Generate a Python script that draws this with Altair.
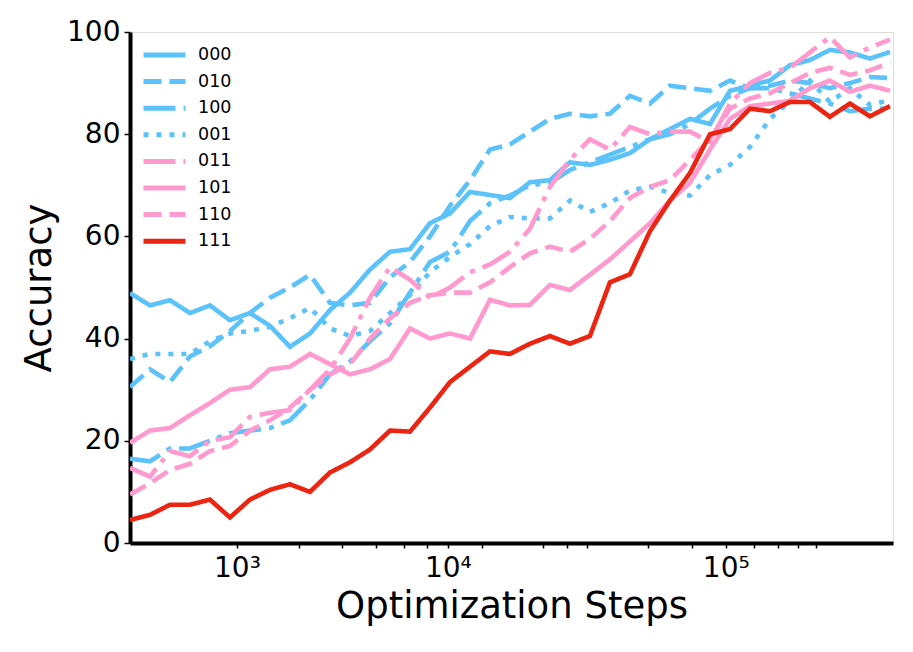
import altair as alt
import pandas as pd

# x positions (optimization steps) of the recorded checkpoints
steps = [231, 310, 412, 542, 707, 916, 1176, 1499, 1898, 2389, 2988, 3715, 4592,
         5648, 6911, 8418, 10206, 12318, 14804, 17722, 21137, 25117, 29738, 35106,
         41302, 48450, 56670, 66090, 76850, 89130, 103100, 118940, 136900, 157200,
         180100, 205900, 234900, 267500, 304000]

s000 = [48.9, 46.5, 47.5, 45.0, 46.5, 43.6, 45.0, 42.5, 38.4, 41.0, 45.6, 49.0, 53.5,
        57.0, 57.5, 62.6, 64.5, 68.7, 68.1, 67.5, 70.6, 71.0, 74.5, 74.0, 75.0, 76.3,
        79.0, 81.0, 83.0, 82.0, 88.5, 89.5, 90.5, 93.5, 94.5, 96.5, 96.0, 94.8, 96.1]
s010 = [30.5, 34.0, 31.5, 36.5, 38.5, 41.5, 45.0, 48.0, 50.0, 52.5, 47.0, 46.5, 47.0,
        52.0, 55.0, 60.0, 66.0, 71.0, 77.0, 78.0, 80.5, 83.0, 84.0, 83.5, 84.0, 87.5,
        86.0, 89.5, 89.0, 88.5, 90.5, 89.0, 89.5, 90.5, 90.0, 89.0, 90.0, 91.2, 91.0]
s100 = [16.5, 16.0, 18.5, 18.5, 20.0, 21.5, 22.0, 22.5, 24.0, 28.0, 33.0, 35.5, 39.5,
        43.0, 49.0, 55.0, 57.0, 63.0, 66.5, 68.0, 70.0, 70.5, 73.0, 74.5, 76.0, 77.5,
        79.0, 80.0, 82.0, 85.0, 87.5, 89.0, 89.0, 88.0, 87.0, 86.0, 84.5, 85.0, 85.0]
s001 = [36.0, 37.0, 37.0, 37.0, 39.5, 41.0, 41.5, 42.3, 44.0, 46.0, 42.0, 40.5, 41.5,
        45.0, 48.5, 53.0, 56.0, 58.5, 62.0, 63.8, 63.5, 63.5, 67.0, 64.8, 66.5, 69.0,
        69.7, 68.5, 68.0, 72.0, 74.0, 77.5, 83.0, 86.5, 90.5, 86.3, 89.0, 85.7, 86.7]
s011 = [14.7, 13.0, 18.0, 17.0, 20.0, 20.7, 24.7, 25.5, 26.0, 30.0, 34.0, 40.0, 48.0,
        54.0, 51.5, 48.0, 50.0, 53.0, 54.5, 57.0, 61.5, 69.7, 75.0, 79.0, 77.0, 81.4,
        80.0, 80.5, 80.5, 78.5, 86.0, 90.0, 92.0, 93.0, 96.0, 99.0, 95.0, 97.0, 98.5]
s101 = [19.6, 22.0, 22.5, 25.0, 27.4, 30.0, 30.5, 34.0, 34.5, 37.0, 35.0, 33.0, 34.0,
        36.0, 42.0, 40.0, 41.0, 40.0, 47.6, 46.5, 46.6, 50.5, 49.5, 52.5, 55.5, 59.0,
        62.6, 67.0, 70.5, 77.0, 83.0, 85.5, 86.0, 86.5, 89.0, 90.5, 88.3, 89.5, 88.5]
s110 = [9.5, 11.7, 14.3, 15.5, 18.0, 19.0, 22.0, 24.0, 26.5, 30.0, 33.0, 35.0, 40.0,
        44.0, 47.0, 48.5, 49.0, 49.0, 51.0, 54.0, 56.7, 58.0, 57.0, 59.5, 63.0, 67.5,
        69.7, 71.0, 75.0, 79.0, 85.0, 87.0, 88.0, 90.0, 92.0, 93.0, 91.6, 92.5, 94.0]
s111 = [4.5, 5.5, 7.5, 7.5, 8.5, 5.0, 8.5, 10.4, 11.5, 10.0, 13.8, 15.8, 18.3,
        22.0, 21.8, 26.5, 31.5, 34.5, 37.5, 37.0, 39.0, 40.5, 39.0, 40.5, 51.0, 52.6,
        61.0, 67.0, 72.4, 80.0, 81.0, 85.0, 84.5, 86.3, 86.3, 83.4, 86.0, 83.5, 85.5]

names = ["000", "010", "100", "001", "011", "101", "110", "111"]
series = [s000, s010, s100, s001, s011, s101, s110, s111]

BLUE = "#5BC2FA"
PINK = "#FF99CE"
RED = "#EC2412"
colors = [BLUE, BLUE, BLUE, BLUE, PINK, PINK, PINK, RED]
dashes = [[1, 0], [18, 8], [32, 8, 5, 8], [5, 8], [32, 8, 5, 8], [1, 0], [18, 8], [1, 0]]

major_ticks = [1000, 10000, 100000]
minor_ticks = [2100, 3400, 4900, 6500, 8200, 13700, 23600, 29000, 34200, 55800,
               78000, 122400, 144800, 166200, 187600]
y_ticks = [0, 20, 40, 60, 80, 100]

rows = []
for name, vals in zip(names, series):
    for s, v in zip(steps, vals):
        rows.append({"step": s, "acc": v, "run": name})
df = pd.DataFrame(rows)

FONT = "DejaVu Sans"

legend = alt.Legend(
    title=None, orient="none", legendX=11, legendY=14,
    symbolType="stroke", symbolSize=1764, symbolStrokeWidth=5,
    labelFontSize=17.5, labelFont=FONT, labelColor="black",
    clipHeight=18, rowPadding=8.6, labelOffset=10, padding=0,
)

chart = alt.Chart(df).mark_line(strokeWidth=4.6, clip=True).encode(
    x=alt.X(
        "step:Q",
        scale=alt.Scale(type="pow", exponent=0.1197, domain=[231, 309900], nice=False, zero=False),
        axis=alt.Axis(
            values=major_ticks + minor_ticks,
            labelExpr="datum.value == 1000 ? '10³' : datum.value == 10000 ? '10⁴' : datum.value == 100000 ? '10⁵' : ''",
            labelOverlap=False, labelFlush=False,
            labelFontSize=28, labelFont=FONT, labelColor="black", labelPadding=6,
            tickSize=5, tickWidth=1.5, tickColor="black",
            domainWidth=4, domainColor="black", grid=False,
            title="Optimization Steps", titleFontSize=37, titleFont=FONT,
            titleFontWeight="normal", titleColor="black", titlePadding=6,
        ),
    ),
    y=alt.Y(
        "acc:Q",
        scale=alt.Scale(domain=[0, 100], nice=False),
        axis=alt.Axis(
            values=y_ticks, labelFontSize=28, labelFont=FONT, labelColor="black",
            labelPadding=4, tickSize=6, tickWidth=1.5, tickColor="black",
            domainWidth=4, domainColor="black", grid=False,
            title="Accuracy", titleFontSize=37, titleFont=FONT,
            titleFontWeight="normal", titleColor="black", titlePadding=8,
        ),
    ),
    color=alt.Color("run:N", scale=alt.Scale(domain=names, range=colors), legend=legend, sort=names),
    strokeDash=alt.StrokeDash("run:N", scale=alt.Scale(domain=names, range=dashes), legend=legend, sort=names),
).properties(
    width=763, height=511,
    autosize=alt.AutoSizeParams(type="none"),
    padding={"left": 122, "top": 24, "right": 12, "bottom": 100},
).configure_view(stroke=None).configure(background="white")

chart.save("out.html", embed_options={"renderer": "svg", "actions": False})
